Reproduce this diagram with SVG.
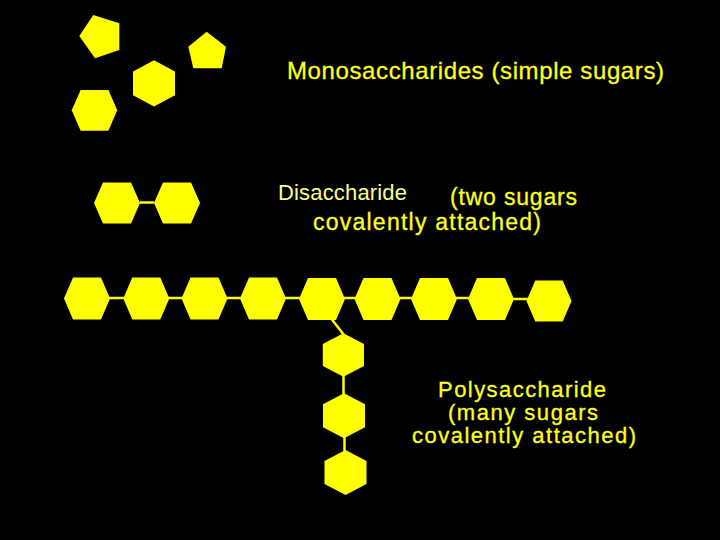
<svg xmlns="http://www.w3.org/2000/svg" width="720" height="540" viewBox="0 0 720 540">
  <style>
    .sugar { fill: #ffff00; }
    .bond { stroke: #ffff00; stroke-width: 2.5; fill: none; }
    .lbl { font-family: "Liberation Sans", Arial, sans-serif; font-size: 23px; fill: #ffff1a; stroke: #ffff1a; stroke-width: 0.3; }
    .big { font-size: 24px; }
    .poly { font-size: 22px; }
    .lbl2 { font-family: "Liberation Sans", Arial, sans-serif; font-size: 22px; fill: #ffff88; }
  </style>
  <defs>
    <polygon id="hexFlat" points="-23,0 -14,-21 14,-21 23,0 14,21 -14,21"/>
    <polygon id="hexPoint" points="0,-22.5 21,-11.5 21,11.5 0,22.5 -21,11.5 -21,-11.5"/>
  </defs>
  <rect x="0" y="0" width="720" height="540" fill="#000000"/>

  <g id="connectors">
    <line class="bond" x1="140" y1="202.5" x2="154" y2="202.5"/>
    <line class="bond" x1="108" y1="298" x2="125" y2="298"/>
    <line class="bond" x1="167" y1="298" x2="183" y2="298"/>
    <line class="bond" x1="225" y1="298" x2="242" y2="298"/>
    <line class="bond" x1="284" y1="298" x2="301" y2="298"/>
    <line class="bond" x1="341" y1="298" x2="357" y2="298"/>
    <line class="bond" x1="398" y1="298" x2="414" y2="298"/>
    <line class="bond" x1="455" y1="298" x2="470" y2="298"/>
    <line class="bond" x1="512" y1="299" x2="528" y2="299"/>
    <line class="bond" x1="330" y1="317" x2="344" y2="335"/>
    <line class="bond" x1="343.5" y1="376" x2="343.5" y2="394"/>
    <line class="bond" x1="344.5" y1="437" x2="344.5" y2="451"/>
  </g>

  <g id="mono-pentagon-1"><polygon class="sugar" points="93.3,15 119.3,23.3 119.3,50 95,58.3 79.3,36"/></g>
  <g id="mono-pentagon-2"><polygon class="sugar" points="206.7,31.7 226,46.7 221.7,68.3 193.3,68.3 188.3,46.7"/></g>
  <g id="mono-hexagon-1"><use href="#hexPoint" class="sugar" transform="translate(154,83.3) scale(1,1.03)"/></g>
  <g id="mono-hexagon-2"><use href="#hexFlat" class="sugar" transform="translate(94.5,110.3) scale(0.99,0.97)"/></g>

  <g id="di-sugar-1"><use href="#hexFlat" class="sugar" transform="translate(117,203) scale(1,0.98)"/></g>
  <g id="di-sugar-2"><use href="#hexFlat" class="sugar" transform="translate(177,203) scale(1,0.98)"/></g>

  <g id="poly-1"><use href="#hexFlat" class="sugar" transform="translate(87,298.5)"/></g>
  <g id="poly-2"><use href="#hexFlat" class="sugar" transform="translate(146.3,298.5)"/></g>
  <g id="poly-3"><use href="#hexFlat" class="sugar" transform="translate(204.5,298.5)"/></g>
  <g id="poly-4"><use href="#hexFlat" class="sugar" transform="translate(263,298.5)"/></g>
  <g id="poly-5"><use href="#hexFlat" class="sugar" transform="translate(322,299)"/></g>
  <g id="poly-6"><use href="#hexFlat" class="sugar" transform="translate(377.5,299)"/></g>
  <g id="poly-7"><use href="#hexFlat" class="sugar" transform="translate(434,299)"/></g>
  <g id="poly-8"><use href="#hexFlat" class="sugar" transform="translate(491,299)"/></g>
  <g id="poly-9"><use href="#hexFlat" class="sugar" transform="translate(549,301) scale(0.98,0.98)"/></g>
  <g id="poly-branch-1"><use href="#hexPoint" class="sugar" transform="translate(343.4,355) scale(0.98,0.965)"/></g>
  <g id="poly-branch-2"><use href="#hexPoint" class="sugar" transform="translate(344,415.8)"/></g>
  <g id="poly-branch-3"><use href="#hexPoint" class="sugar" transform="translate(345.5,472.5)"/></g>

  <g id="label-mono">
    <text class="lbl big" x="287" y="79" textLength="377" lengthAdjust="spacing">Monosaccharides (simple sugars)</text>
  </g>
  <g id="label-di">
    <text class="lbl2" x="278" y="200" textLength="129" lengthAdjust="spacing">Disaccharide</text>
    <text class="lbl" x="450" y="205" textLength="127" lengthAdjust="spacing">(two sugars</text>
    <text class="lbl" x="313" y="230" textLength="228" lengthAdjust="spacing">covalently attached)</text>
  </g>
  <g id="label-poly">
    <text class="lbl poly" x="438" y="397" textLength="168" lengthAdjust="spacing">Polysaccharide</text>
    <text class="lbl poly" x="448" y="420" textLength="150" lengthAdjust="spacing">(many sugars</text>
    <text class="lbl poly" x="412" y="443" textLength="224" lengthAdjust="spacing">covalently attached)</text>
  </g>
</svg>
